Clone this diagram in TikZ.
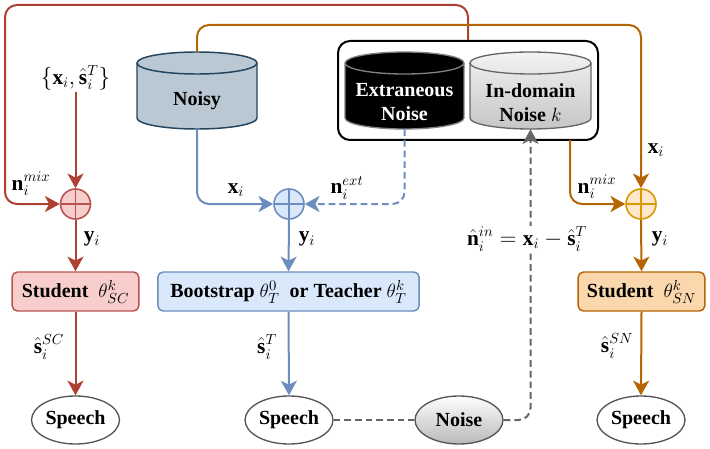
\documentclass[tikz,border=0pt]{standalone}
\usepackage{fontspec}
\setmainfont{Liberation Serif}
\usepackage{amsmath}
\usetikzlibrary{arrows.meta,shapes.geometric}
\definecolor{redS}{HTML}{B85450}
\definecolor{redL}{HTML}{AE4132}
\definecolor{redF}{HTML}{F8CECC}
\definecolor{bluS}{HTML}{6C8EBF}
\definecolor{bluF}{HTML}{DAE8FC}
\definecolor{orgS}{HTML}{B46504}
\definecolor{orgC}{HTML}{D79B00}
\definecolor{orgF}{HTML}{FFE6CC}
\definecolor{orgB}{HTML}{FAD7AC}
\definecolor{noisyF}{HTML}{BAC8D3}
\definecolor{noisyS}{HTML}{23445D}
\definecolor{grayS}{HTML}{666666}
\definecolor{ellS}{HTML}{555555}
\tikzset{
  tip/.style={-{Stealth[length=11pt,width=12pt,inset=3pt]}},
  conn/.style={line width=1.5pt, rounded corners=9pt},
  dsh/.style={dash pattern=on 5pt off 3pt},
  sumnode/.style 2 args={circle, draw=#1, fill=#2, line width=1.2pt, minimum size=22.5pt, inner sep=0pt,
    path picture={\draw[#1, line width=1.2pt] (path picture bounding box.north) -- (path picture bounding box.south)
      (path picture bounding box.west) -- (path picture bounding box.east);}},
  boxnode/.style 2 args={draw=#1, fill=#2, rounded corners=4pt, line width=1.1pt, minimum height=29.25pt, inner sep=2pt},
  speech/.style={ellipse, draw=ellS, line width=1pt, minimum width=66pt, minimum height=36pt, inner sep=0pt},
  lbl/.style={inner sep=1pt, font=\fontsize{16}{18}\selectfont},
  ghost/.style={inner sep=0pt, minimum height=57.75pt}
}
\begin{document}
\begin{tikzpicture}[x=0.75pt, y=-0.75pt, font=\fontsize{15}{17}\selectfont\bfseries]
\useasboundingbox (0,0) rectangle (710,449);

% group box
\node[draw=black, line width=1.5pt, rounded corners=9pt, minimum width=195pt, minimum height=74.25pt, inner sep=0pt] (grp) at (468,90.5) {};

% Noisy cylinder
\path[draw=noisyS, fill=noisyF, line width=1.1pt] (137,63) -- (137,118) arc[start angle=180,end angle=360,x radius=45pt,y radius=8.25pt] -- (257,63) arc[start angle=0,end angle=180,x radius=45pt,y radius=8.25pt] -- cycle;
\draw[noisyS, line width=1.1pt] (137,63) arc[start angle=180,end angle=360,x radius=45pt,y radius=8.25pt];
\node[ghost, minimum width=90pt] (noisy) at (197,90.5) {};
\node (noisyt) at (197,101) {Noisy};

% Extraneous cylinder
\path[draw=gray, fill=black, line width=1pt] (345,63) -- (345,118) arc[start angle=180,end angle=360,x radius=44.6pt,y radius=8.25pt] -- (464,63) arc[start angle=0,end angle=180,x radius=44.6pt,y radius=8.25pt] -- cycle;
\draw[gray, line width=1pt] (345,63) arc[start angle=180,end angle=360,x radius=44.6pt,y radius=8.25pt];
\node[ghost, minimum width=89.25pt] (ext) at (404.5,90.5) {};
\node[text=white, align=center] (extt) at (404.5,102.5) {Extraneous\\[1pt]Noise};

% In-domain cylinder
\path[draw=grayS, top color=gray!10, bottom color=gray!45, line width=1pt] (470,63) -- (470,118) arc[start angle=180,end angle=360,x radius=45.4pt,y radius=8.25pt] -- (591,63) arc[start angle=0,end angle=180,x radius=45.4pt,y radius=8.25pt] -- cycle;
\draw[grayS, line width=1pt] (470,63) arc[start angle=180,end angle=360,x radius=45.4pt,y radius=8.25pt];
\node[ghost, minimum width=90.75pt] (ind) at (530.5,90.5) {};
\node[align=center] (indt) at (530.5,102.5) {In-domain\\[1pt]Noise $k$};

% summing nodes
\node[sumnode={redS}{redF}] (rsum) at (75.5,204) {};
\node[sumnode={bluS}{bluF}] (bsum) at (289,204) {};
\node[sumnode={orgC}{orgF}] (osum) at (641,204) {};

% model boxes
\node[boxnode={redS}{redF}, minimum width=95pt] (rbox) at (75.5,291.5) {Student~ $\theta^{k}_{SC}$};
\node[boxnode={bluS}{bluF}, minimum width=196pt] (bbox) at (288.5,291.5) {Bootstrap $\theta^{0}_{T}$ ~or Teacher $\theta^{k}_{T}$};
\node[boxnode={orgS}{orgB}, minimum width=95pt] (obox) at (641.5,291.5) {Student~ $\theta^{k}_{SN}$};

% ellipses
\node[speech] (rsp) at (75.5,420) {Speech};
\node[speech] (bsp) at (289,420) {Speech};
\node[speech, top color=white, bottom color=gray!55] (noise) at (459,420) {Noise};
\node[speech] (osp) at (641,420) {Speech};

% labels
\node[lbl] (xs) at (75.5,78) {$\{\mathbf{x}_i,\hat{\mathbf{s}}_i^{T}\}$};
\node[lbl] at (31,184) {$\mathbf{n}_i^{mix}$};
\node[lbl] at (92,239) {$\mathbf{y}_i$};
\node[lbl] at (49,347) {$\hat{\mathbf{s}}_i^{SC}$};
\node[lbl] at (236,190) {$\mathbf{x}_i$};
\node[lbl] at (347,188) {$\mathbf{n}_i^{ext}$};
\node[lbl] at (307,239) {$\mathbf{y}_i$};
\node[lbl] at (267,347) {$\hat{\mathbf{s}}_i^{T}$};
\node[lbl] at (597,187) {$\mathbf{n}_i^{mix}$};
\node[lbl] at (656,150) {$\mathbf{x}_i$};
\node[lbl] at (660,239) {$\mathbf{y}_i$};
\node[lbl] at (617,346) {$\hat{\mathbf{s}}_i^{SN}$};

% coordinates
\coordinate (os) at (570,140);
\coordinate (rtop) at (5,5);
\coordinate (otop) at (197,25);
\coordinate (rleft) at (5,204);

% red connectors
\draw[conn, redL, tip] (grp.north) |- (rtop) -- (rleft) -- (rsum.west);
\draw[conn, redL, tip] (xs.south) -- (rsum.north);
\draw[conn, redL, tip] (rsum.south) -- (rbox.north);
\draw[conn, redL, tip] (rbox.south) -- (rsp.north);

% orange connectors
\draw[conn, orgS, tip] (noisy.north) -- (otop) -| (osum.north);
\draw[conn, orgS, tip] (os) |- (osum.west);
\draw[conn, orgS, tip] (osum.south) -- (obox.north);
\draw[conn, orgS, tip] (obox.south) -- (osp.north);

% blue connectors
\draw[conn, bluS, tip] (noisy.south) |- (bsum.west);
\draw[conn, bluS, tip, dsh] (ext.south) |- (bsum.east);
\draw[conn, bluS, tip] (bsum.south) -- (bbox.north);
\draw[conn, bluS, tip] (bbox.south) -- (bsp.north);

% gray dashed
\draw[conn, grayS, dsh] (bsp.east) -- (noise.west);
\draw[conn, grayS, dsh, tip] (noise.east) -| (ind.south);
\node[lbl, fill=white] (nin) at (527,239) {$\hat{\mathbf{n}}_i^{in}=\mathbf{x}_i-\hat{\mathbf{s}}_i^{T}$};
\end{tikzpicture}
\end{document}
